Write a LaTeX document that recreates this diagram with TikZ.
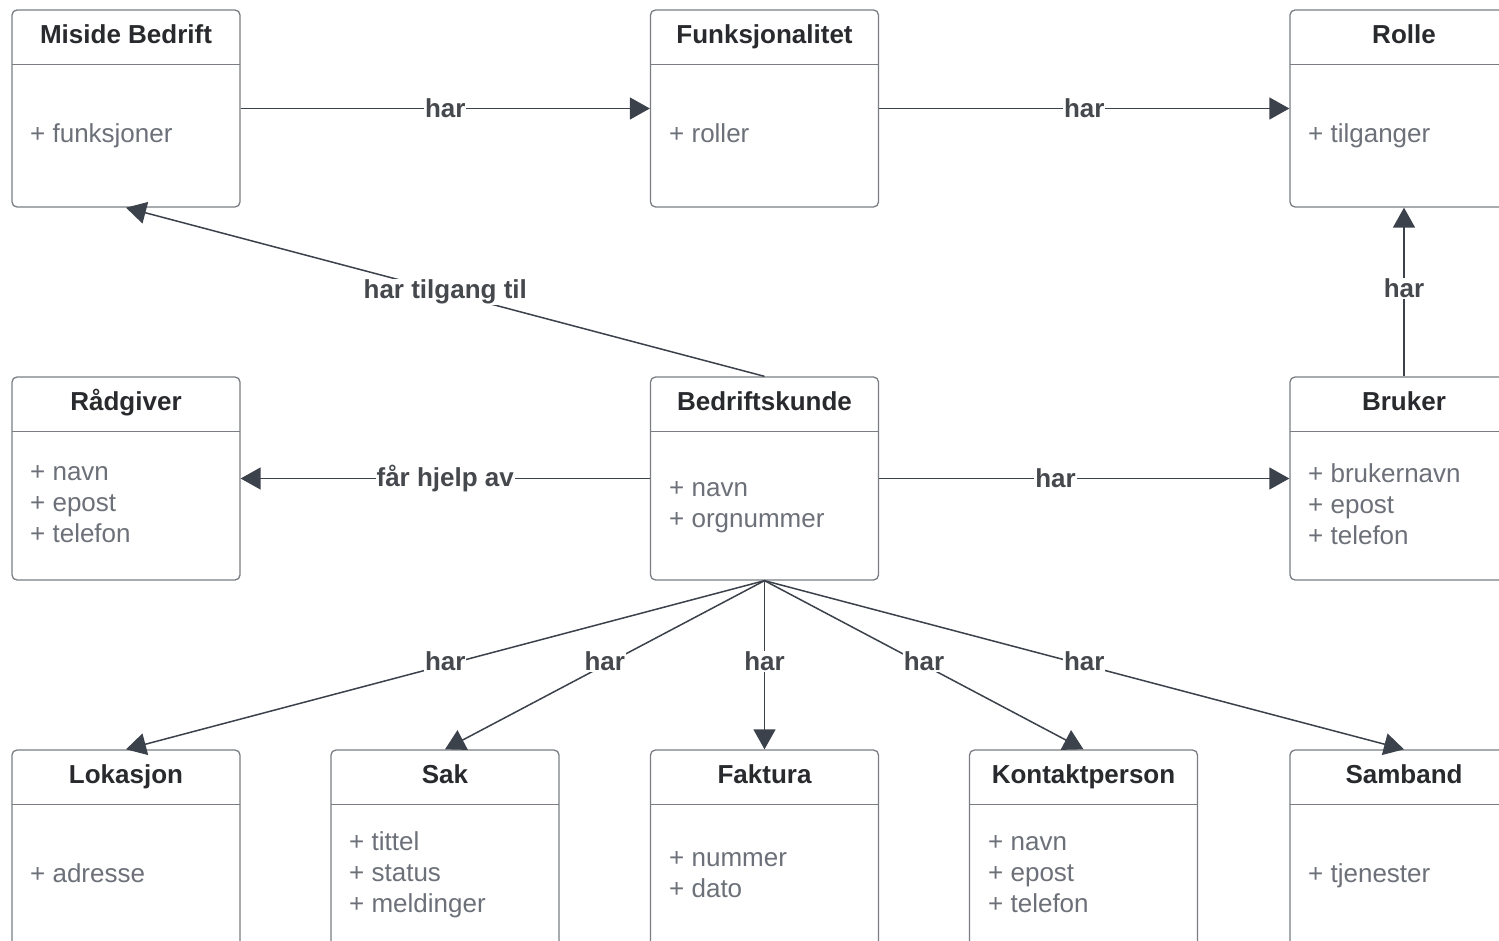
\documentclass[tikz,border=0pt]{standalone}
\usepackage{fontspec}
\setmainfont{Liberation Sans}
\usetikzlibrary{arrows.meta}
\definecolor{boxgray}{HTML}{7A7E84}
\definecolor{titlegray}{HTML}{282A2D}
\definecolor{attrgray}{HTML}{6C7078}
\definecolor{linegray}{HTML}{3C424B}
\definecolor{lblgray}{HTML}{45484C}
\tikzset{
  cls/.style={draw=boxgray, line width=1.3pt, rounded corners=5pt, minimum width=228pt, inner sep=0pt},
  head/.style={minimum width=228pt, minimum height=55pt, inner sep=0pt, anchor=north, text=titlegray,
    font=\bfseries\fontsize{26}{31}\selectfont, execute at begin node=\strut},
  divider/.style={draw=boxgray, line width=1.3pt},
  attr/.style={anchor=west, align=left, inner sep=0pt, text=attrgray, font=\fontsize{26}{31}\selectfont,
    execute at begin node=\strut, execute at end node=\strut},
  lbl/.style={fill=white, inner sep=1pt, text=lblgray, font=\bfseries\fontsize{26}{31}\selectfont},
  link/.style={draw=linegray, line width=1.5pt, -{Triangle[length=20pt,width=22pt]}}
}
\begin{document}
\begin{tikzpicture}[x=1pt, y=-1pt]
            \fill[white] (0,0) rectangle (1499,941);
            \useasboundingbox (0,0) rectangle (1499,941);

            % top row
            \node[cls, minimum height=197pt] (miside) at (126,108.5) {};
            \node[cls, minimum height=197pt] (funk) at (764.5,108.5) {};
            \node[cls, minimum height=197pt] (rolle) at (1404,108.5) {};
            % middle row
            \node[cls, minimum height=203pt] (radgiver) at (126,478.5) {};
            \node[cls, minimum height=203pt] (bkunde) at (764.5,478.5) {};
            \node[cls, minimum height=203pt] (bruker) at (1404,478.5) {};
            % bottom row
            \node[cls, minimum height=210pt] (lokasjon) at (126,855) {};
            \node[cls, minimum height=210pt] (sak) at (445,855) {};
            \node[cls, minimum height=210pt] (faktura) at (764.5,855) {};
            \node[cls, minimum height=210pt] (kontakt) at (1083.5,855) {};
            \node[cls, minimum height=210pt] (samband) at (1404,855) {};

            % titles
            \node[head] (miside-t) at (miside.north) {Miside Bedrift};
            \node[head] (funk-t) at (funk.north) {Funksjonalitet};
            \node[head] (rolle-t) at (rolle.north) {Rolle};
            \node[head] (radgiver-t) at (radgiver.north) {Rådgiver};
            \node[head] (bkunde-t) at (bkunde.north) {Bedriftskunde};
            \node[head] (bruker-t) at (bruker.north) {Bruker};
            \node[head] (lokasjon-t) at (lokasjon.north) {Lokasjon};
            \node[head] (sak-t) at (sak.north) {Sak};
            \node[head] (faktura-t) at (faktura.north) {Faktura};
            \node[head] (kontakt-t) at (kontakt.north) {Kontaktperson};
            \node[head] (samband-t) at (samband.north) {Samband};

            \foreach \c in {miside,funk,rolle,radgiver,bkunde,bruker,lokasjon,sak,faktura,kontakt,samband}
              \draw[divider] (\c-t.south west) -- (\c-t.south east);

            % attributes
            \node[attr] (miside-a) at (30,136) {+ funksjoner};
            \node[attr] (funk-a) at (669,136) {+ roller};
            \node[attr] (rolle-a) at (1308,136) {+ tilganger};
            \node[attr] (radgiver-a) at (30,509) {+ navn\\+ epost\\+ telefon};
            \node[attr] (bkunde-a) at (669,509) {+ navn\\+ orgnummer};
            \node[attr] (bruker-a) at (1308,509) {+ brukernavn\\+ epost\\+ telefon};
            \node[attr] (lokasjon-a) at (30,876) {+ adresse};
            \node[attr] (sak-a) at (349,877) {+ tittel\\+ status\\+ meldinger};
            \node[attr] (faktura-a) at (669,879) {+ nummer\\+ dato};
            \node[attr] (kontakt-a) at (988,879) {+ navn\\+ epost\\+ telefon};
            \node[attr] (samband-a) at (1308,876) {+ tjenester};

            % relations
            \path (miside) edge[link] node[lbl] {har} (funk);
            \path (funk) edge[link] node[lbl] {har} (rolle);
            \path (bkunde.north) edge[link] node[lbl] {har tilgang til} (miside.south);
            \path (bruker.north) edge[link] node[lbl, pos=0.52] {har} (rolle.south);
            \path (bkunde) edge[link] node[lbl] {får hjelp av} (radgiver);
            \path (bkunde) edge[link] node[lbl, pos=0.43] {har} (bruker);
            \path (bkunde.south) edge[link] node[lbl, yshift=4pt] {har} (lokasjon.north);
            \path (bkunde.south) edge[link] node[lbl, yshift=4pt] {har} (sak.north);
            \path (bkunde.south) edge[link] node[lbl, pos=0.48] {har} (faktura.north);
            \path (bkunde.south) edge[link] node[lbl, yshift=4pt] {har} (kontakt.north);
            \path (bkunde.south) edge[link] node[lbl, yshift=4pt] {har} (samband.north);
        \end{tikzpicture}
\end{document}
